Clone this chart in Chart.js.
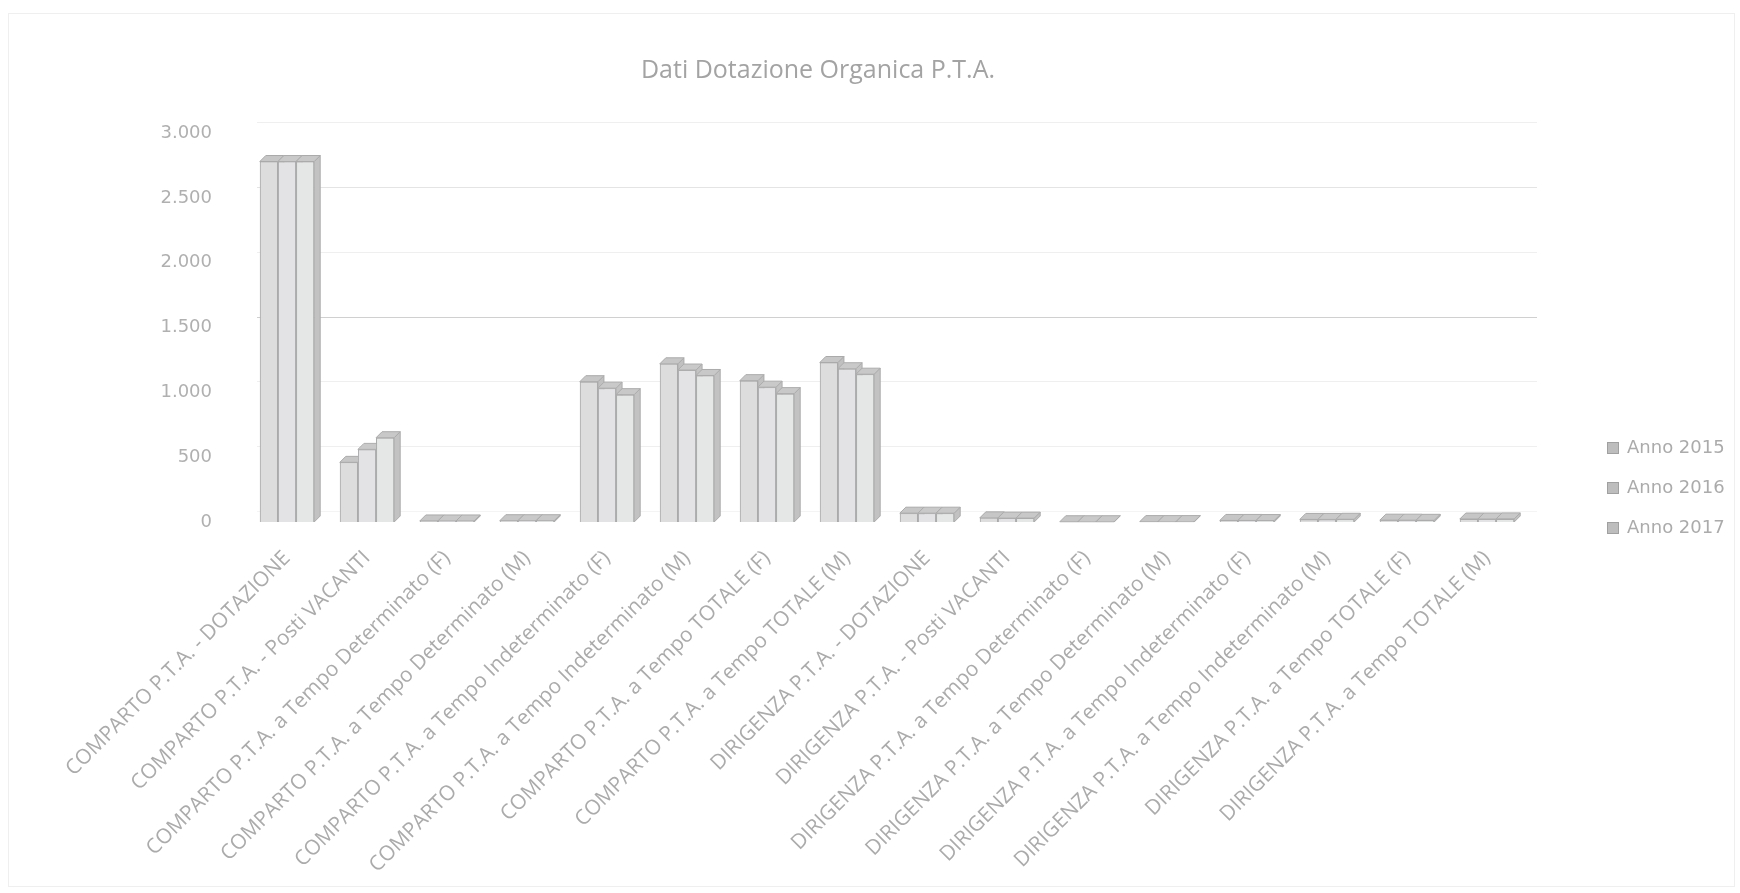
<!DOCTYPE html>
<html>
<head>
<meta charset="utf-8">
<script src="https://cdn.jsdelivr.net/npm/chart.js@4/dist/chart.umd.min.js"></script>
<style>
  html, body { margin: 0; padding: 0; background: #ffffff; }
  #wrap { width: 1740px; height: 893px; }
</style>
</head>
<body>
<div id="wrap"><canvas id="chart" width="1740" height="893"></canvas></div>
<script>
// Categories (x axis)
const categories = [
  'COMPARTO P.T.A. - DOTAZIONE',
  'COMPARTO P.T.A. - Posti VACANTI',
  'COMPARTO P.T.A. a Tempo Determinato (F)',
  'COMPARTO P.T.A. a Tempo Determinato (M)',
  'COMPARTO P.T.A. a Tempo Indeterminato (F)',
  'COMPARTO P.T.A. a Tempo Indeterminato (M)',
  'COMPARTO P.T.A. a Tempo TOTALE (F)',
  'COMPARTO P.T.A. a Tempo TOTALE (M)',
  'DIRIGENZA P.T.A. - DOTAZIONE',
  'DIRIGENZA P.T.A. - Posti VACANTI',
  'DIRIGENZA P.T.A. a Tempo Determinato (F)',
  'DIRIGENZA P.T.A. a Tempo Determinato (M)',
  'DIRIGENZA P.T.A. a Tempo Indeterminato (F)',
  'DIRIGENZA P.T.A. a Tempo Indeterminato (M)',
  'DIRIGENZA P.T.A. a Tempo TOTALE (F)',
  'DIRIGENZA P.T.A. a Tempo TOTALE (M)'
];

// Series values
const anno2015 = [2780, 460, 8, 10, 1082, 1220, 1090, 1230, 68, 32, 2, 3, 12, 20, 14, 23];
const anno2016 = [2780, 560, 8, 10, 1032, 1172, 1040, 1182, 68, 30, 2, 3, 12, 20, 14, 23];
const anno2017 = [2780, 650, 8, 10,  982, 1130,  990, 1140, 68, 30, 2, 3, 11, 21, 13, 24];

const seriesNames = ['Anno 2015', 'Anno 2016', 'Anno 2017'];

// Value axis
const yMin = 0;
const yMax = 3000;
const yStep = 500;

const chartTitle = 'Dati Dotazione Organica P.T.A.';

// Italian thousands separator
function fmtIt(v) {
  return String(v).replace(/\B(?=(\d{3})+(?!\d))/g, '.');
}

const faces = [
  { front: '#dddddd', side: '#c0c0c0', top: '#c6c6c6', edge: '#aaaaaa' },
  { front: '#e3e3e6', side: '#c3c3c3', top: '#c9c9c9', edge: '#adadad' },
  { front: '#e5e6e6', side: '#c2c2c2', top: '#c8c8c8', edge: '#ababab' }
];

// Depth of the back wall behind the columns
const wallDx = 10;
const wallDy = -11;

// Faint chart frame and the gridlines on the back wall
const backWall = {
  id: 'backWall',
  beforeDatasetsDraw(chart) {
    const ctx = chart.ctx;
    const area = chart.chartArea;
    const ys = chart.scales.y;
    ctx.save();
    ctx.lineWidth = 1;
    ctx.strokeStyle = '#efefef';
    ctx.strokeRect(8.5, 13.5, chart.width - 14, chart.height - 20);
    ys.ticks.forEach(t => {
      const py = Math.round(ys.getPixelForValue(t.value) + wallDy) + 0.5;
      ctx.strokeStyle = t.value === 1500 ? '#d0d0d0'
                      : t.value === 2500 ? '#e4e4e4'
                      : t.value === 0 ? '#f4f4f4' : '#efefef';
      ctx.beginPath();
      ctx.moveTo(area.left + wallDx, py);
      ctx.lineTo(area.right + wallDx, py);
      ctx.stroke();
    });
    ctx.restore();
  }
};

// Gives the columns a shallow 3D look: side and top faces, then the front again,
// series by series so each bar hides the side of the one on its left.
const depthPlugin = {
  id: 'depth',
  afterDatasetsDraw(chart) {
    const ctx = chart.ctx;
    const d = 6;
    ctx.save();
    chart.data.datasets.forEach((ds, i) => {
      const meta = chart.getDatasetMeta(i);
      const f = faces[i];
      meta.data.forEach(bar => {
        const p = bar.getProps(['x', 'y', 'base', 'width'], true);
        const l = p.x - p.width / 2;
        const r = p.x + p.width / 2;
        ctx.lineWidth = 1;
        ctx.strokeStyle = f.edge;
        // side
        ctx.beginPath();
        ctx.moveTo(r, p.y);
        ctx.lineTo(r + d, p.y - d);
        ctx.lineTo(r + d, p.base - d);
        ctx.lineTo(r, p.base);
        ctx.closePath();
        ctx.fillStyle = f.side;
        ctx.fill();
        ctx.stroke();
        // top
        ctx.beginPath();
        ctx.moveTo(l, p.y);
        ctx.lineTo(l + d, p.y - d);
        ctx.lineTo(r + d, p.y - d);
        ctx.lineTo(r, p.y);
        ctx.closePath();
        ctx.fillStyle = f.top;
        ctx.fill();
        ctx.stroke();
        bar.draw(ctx);
      });
    });
    ctx.restore();
  }
};

// Legend column on the right
const sideLegend = {
  id: 'sideLegend',
  afterDraw(chart) {
    const ctx = chart.ctx;
    ctx.save();
    ctx.font = '18px "DejaVu Sans"';
    ctx.textBaseline = 'middle';
    ctx.textAlign = 'left';
    chart.data.datasets.forEach((ds, i) => {
      const y = 448 + i * 40;
      ctx.fillStyle = '#bdbdbd';
      ctx.fillRect(1607.5, y - 5.5, 11, 11);
      ctx.strokeStyle = '#a0a0a0';
      ctx.lineWidth = 1;
      ctx.strokeRect(1607.5, y - 5.5, 11, 11);
      ctx.fillStyle = '#ababab';
      ctx.fillText(ds.label, 1627, y);
    });
    ctx.restore();
  }
};

const seriesData = [anno2015, anno2016, anno2017];

new Chart(document.getElementById('chart'), {
  type: 'bar',
  data: {
    labels: categories,
    datasets: seriesData.map((vals, i) => ({
      label: seriesNames[i],
      data: vals,
      backgroundColor: faces[i].front,
      borderColor: faces[i].edge,
      borderWidth: 1,
      categoryPercentage: 0.68,
      barPercentage: 1.0
    }))
  },
  options: {
    responsive: false,
    animation: false,
    layout: { padding: { left: 0, right: 104, top: 0, bottom: 0 } },
    plugins: {
      legend: { display: false },
      tooltip: { enabled: false },
      title: {
        display: true,
        text: chartTitle,
        color: '#a3a3a3',
        font: { family: '"Open Sans"', size: 25, weight: 'normal' },
        padding: { top: 56, bottom: 47 }
      }
    },
    scales: {
      x: {
        grid: { display: false },
        border: { display: false },
        ticks: {
          autoSkip: false,
          maxRotation: 45,
          minRotation: 45,
          padding: 16,
          color: '#ababab',
          font: { family: '"Open Sans"', size: 20.8 }
        },
        afterFit(s) { s.height = 371; }
      },
      y: {
        min: yMin,
        max: yMax,
        ticks: {
          stepSize: yStep,
          padding: 27,
          color: '#b0b0b0',
          font: { family: '"DejaVu Sans"', size: 18 },
          callback: v => fmtIt(v)
        },
        grid: { display: false },
        border: { display: false },
        afterFit(s) { s.width = 247; }
      },
      legendSpace: {
        position: 'right',
        display: true,
        grid: { display: false },
        border: { display: false },
        ticks: { display: false },
        afterFit(s) { s.width = 109; }
      }
    }
  },
  plugins: [backWall, depthPlugin, sideLegend]
});
</script>
</body>
</html>
